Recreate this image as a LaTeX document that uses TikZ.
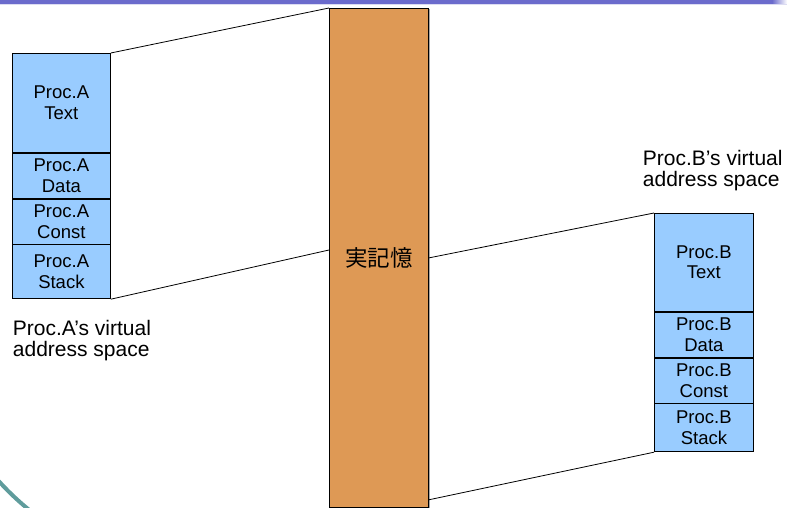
\documentclass[tikz,border=0pt]{standalone}
\usepackage{fontspec}
\setmainfont{Liberation Sans}
\newfontfamily\cjk{Noto Sans CJK JP}
\usetikzlibrary{calc}
\definecolor{boxblue}{HTML}{99CCFF}
\definecolor{memorange}{HTML}{DE9955}
\definecolor{barpurple}{HTML}{6B6BCC}
\definecolor{barlight}{HTML}{DCDCF2}
\definecolor{arcteal}{HTML}{5F9C9C}
\begin{document}
\begin{tikzpicture}[x=1pt,y=-1pt,
  seg/.style={draw=black, line width=0.8pt, fill=boxblue, rectangle, inner sep=0pt,
    anchor=north west, align=center, font=\fontsize{18.5}{20.5}\selectfont},
  membox/.style={draw=black, line width=0.8pt, fill=memorange, rectangle, inner sep=0pt,
    anchor=north west, font=\cjk\fontsize{22.5}{22.5}\selectfont},
  link/.style={draw=black, line width=0.8pt},
  lbl/.style={inner sep=0pt, anchor=base west, align=left, font=\fontsize{21}{21}\selectfont}]
\useasboundingbox (0,0) rectangle (787,508);
% slide decoration
\fill[barpurple] (0,0) rectangle (772,3.7);
\shade[left color=barpurple, right color=white] (772,0) rectangle (787,3.7);
\fill[barlight] (0,3.7) rectangle (787,4.7);
\begin{scope}
  \clip (0,440) rectangle (70,508);
  \draw[arcteal, line width=4pt] (199,300) circle (270);
\end{scope}
% memory
\fill[gray!70] (428,9) rectangle (430,508);
\node[membox, minimum width=99, minimum height=499] (mem) at (329,8) {実記憶};
\coordinate (memL) at ($(mem.north west)+(0,242)$);
\coordinate (memB) at ($(mem.south east)+(0,-8)$);
% process A
\node[seg, minimum width=98, minimum height=99] (aT) at (12,53) {Proc.A\\Text};
\node[seg, minimum width=98, minimum height=45] (aD) at (aT.south west) {Proc.A\\Data};
\node[seg, minimum width=98, minimum height=45] (aC) at (aD.south west) {Proc.A\\Const};
\node[seg, minimum width=98, minimum height=54] (aS) at (aC.south west) {Proc.A\\Stack};
% process B
\node[seg, minimum width=99, minimum height=98] (bT) at (654,213) {Proc.B\\Text};
\node[seg, minimum width=99, minimum height=45] (bD) at (bT.south west) {Proc.B\\Data};
\node[seg, minimum width=99, minimum height=45] (bC) at (bD.south west) {Proc.B\\Const};
\node[seg, minimum width=99, minimum height=48] (bS) at (bC.south west) {Proc.B\\Stack};
% links
\draw[link] (aT.north east) -- (mem.north west);
\draw[link] (aS.south east) -- (memL);
\draw[link] (mem.east) -- (bT.north west);
\draw[link] (memB) -- (bS.south west);
% labels
\node[lbl] (labA) at (12.7,356) {Proc.A’s virtual\\address space};
\node[lbl] (labB) at (642.7,186) {Proc.B’s virtual\\address space};
\end{tikzpicture}
\end{document}
